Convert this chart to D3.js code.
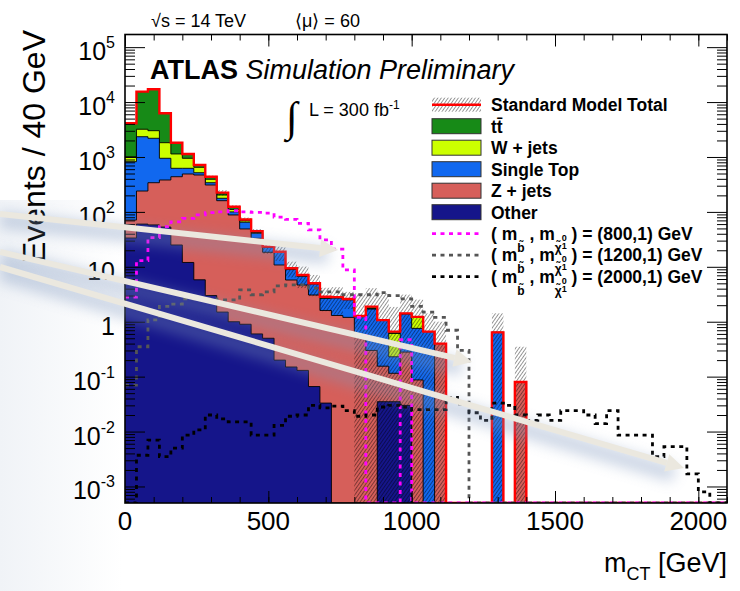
<!DOCTYPE html>
<html>
<head>
<meta charset="utf-8">
<script src="https://cdn.jsdelivr.net/npm/d3@7"></script>
<style>
body { margin: 0; background: #fff; }
svg { display: block; font-family: "Liberation Sans", Arial, Helvetica, sans-serif; }
</style>
</head>
<body>
<svg width="740" height="591"></svg>
<script>
// m_CT bins, 40 GeV wide, starting at 0
var binWidth = 40;

// background processes, events per bin
var ttbar = [3100, 12300, 14090, 4430, 685, 188, 66, 44, 21, 13, 4, 2.6, 0.5, 0.3, 0.2, 0.1, 0.05, 0.05, 0.03, 0.03,
  0, 0.15, 0, 0.05, 0.02, 0.02, 0, 0, 0, 0, 0, 0, 0, 0, 0, 0, 0, 0, 0, 0,
  0, 0, 0, 0, 0, 0, 0, 0, 0, 0, 0, 0, 0];
var wjets = [191, 860, 820, 873, 513, 325, 132, 53, 26, 11, 4, 1.0, 0.3, 0.2, 0.3, 0.3, 0.1, 0.15, 0.07, 0.07,
  0.02, 0.03, 0.015, 0.38, 0.02, 0.45, 0, 0, 0, 0, 0, 0, 0, 0, 0, 0, 0, 0, 0, 0,
  0, 0, 0, 0, 0, 0, 0, 0, 0, 0, 0, 0, 0];
var singleTop = [750, 2100, 1850, 566, 185, 132, 47, 31, 17, 12, 16, 8, 4.1, 7.5, 3.15, 2.04, 1.8, 1.05, 1.4, 1.3,
  0.7, 1.4, 0.9, 0.115, 1.1, 0.67, 0.66, 0, 0, 0, 0, 0, 0.64, 0, 0, 0, 0, 0, 0, 0,
  0, 0, 0, 0, 0, 0, 0, 0, 0, 0, 0, 0, 0];
var zjets = [37.5, 180, 282, 328, 412, 478, 464, 306, 158.5, 87, 48, 32.4, 17.9, 10.6, 5.6, 4.53, 3.0, 1.57, 1.3, 1.2,
  0.55, 0.3, 0.12, 0.08, 0.25, 0.087, 0, 0.40, 0, 0, 0, 0, 0, 0, 0.08, 0, 0, 0, 0, 0,
  0, 0, 0, 0, 0, 0, 0, 0, 0, 0, 0, 0, 0];
var other = [33.5, 60, 58, 53, 25, 12, 5.8, 3.0, 1.5, 1.0, 0.9, 0.6, 0.5, 0.2, 0.15, 0.13, 0.066, 0.033, 0, 0,
  0, 0, 0.035, 0.035, 0.03, 0, 0, 0, 0, 0, 0, 0, 0, 0, 0, 0, 0, 0, 0, 0,
  0, 0, 0, 0, 0, 0, 0, 0, 0, 0, 0, 0, 0];
// uncertainty on the SM total
var smError = [120, 400, 450, 200, 60, 40, 25, 20, 25, 8, 6, 4, 6, 6, 3, 3, 2.1, 1.3, 1.45, 0.9,
  2.0, 2.2, 2.2, 1.2, 1.7, 1.3, 0.76, 0.6, 0, 0, 0, 0, 0.78, 0, 0.27, 0, 0, 0, 0, 0,
  0, 0, 0, 0, 0, 0, 0, 0, 0, 0, 0, 0, 0];

// signal points
var sig800 = [2.8, 13, 34, 54, 66, 76, 88, 97, 100, 105, 100, 98, 95, 80, 73, 62, 47, 31, 21, 8.8,
  1.2, 0, 0, 0, 0.47, 0, 0, 0, 0, 0, 0, 0, 0, 0, 0, 0, 0, 0, 0, 0,
  0, 0, 0, 0, 0, 0, 0, 0, 0, 0, 0, 0, 0];
var sig1200 = [0.07, 0.35, 1.08, 1.9, 2.1, 2.6, 2.7, 2.6, 2.5, 2.5, 3.8, 3.1, 3.5, 4.5, 4.7, 4.7, 4.1, 3.5, 3.5, 3.1,
  3.1, 3.1, 3.4, 3.0, 2.6, 1.9, 1.5, 1.2, 0.7, 0.3, 0, 0, 0, 0, 0, 0, 0, 0, 0, 0,
  0, 0, 0, 0, 0, 0, 0, 0, 0, 0, 0, 0, 0];
var sig2000 = [0, 0.0037, 0.007, 0.0035, 0.005, 0.0086, 0.0107, 0.02, 0.017, 0.015, 0.015, 0.0086, 0.0086, 0.013, 0.019, 0.02, 0.03, 0.027, 0.029, 0.024,
  0.019, 0.02, 0.028, 0.03, 0.028, 0.025, 0.025, 0.025, 0.042, 0.032, 0.022, 0.016, 0.033, 0.03, 0.02, 0.016, 0.02, 0.016, 0.024, 0.024,
  0.02, 0.014, 0.024, 0.0086, 0.0086, 0.0086, 0.0035, 0.0053, 0.0053, 0.0017, 0.0008, 0, 0];

var xTicks = [0, 500, 1000, 1500, 2000];
var yDecades = [-3, -2, -1, 0, 1, 2, 3, 4, 5];

var svg = d3.select("svg");
var pLeft = 125, pRight = 727, pTop = 34.5, pBottom = 503;
var yMin = 5e-4, yMax = 1.7e5;

var x = d3.scaleLinear().domain([0, 2100]).range([pLeft, pRight]);
var y = d3.scaleLog().domain([yMin, yMax]).range([pBottom, pTop]);

var defs = svg.append("defs");
defs.append("clipPath").attr("id", "plotclip")
  .append("rect").attr("x", pLeft).attr("y", pTop).attr("width", pRight - pLeft).attr("height", pBottom - pTop);

var hatch = defs.append("pattern").attr("id", "hatch")
  .attr("patternUnits", "userSpaceOnUse").attr("width", 2.8).attr("height", 2.8)
  .attr("patternTransform", "rotate(35)");
hatch.append("line").attr("x1", 0).attr("y1", 0).attr("x2", 0).attr("y2", 2.8)
  .attr("stroke", "#000").attr("stroke-width", 0.8);

var blur = defs.append("filter").attr("id", "glow")
  .attr("x", "-20%").attr("y", "-50%").attr("width", "140%").attr("height", "200%");
blur.append("feGaussianBlur").attr("stdDeviation", 7);

var leftShade = defs.append("linearGradient").attr("id", "leftshade")
  .attr("x1", 0).attr("y1", 0).attr("x2", 1).attr("y2", 0);
leftShade.append("stop").attr("offset", 0).attr("stop-color", "#f0f3f7");
leftShade.append("stop").attr("offset", 1).attr("stop-color", "#ffffff");

svg.append("rect").attr("x", 0).attr("y", 200).attr("width", 122).attr("height", 391)
  .attr("fill", "url(#leftshade)");

var nBins = ttbar.length;
var layers = [
  {name: "Other", vals: other, color: "#15158a"},
  {name: "Z + jets", vals: zjets, color: "#d65f5a"},
  {name: "Single Top", vals: singleTop, color: "#1168ef"},
  {name: "W + jets", vals: wjets, color: "#ccff00"},
  {name: "tt", vals: ttbar, color: "#178a17"}
];

var running = d3.range(nBins).map(function() { return 0; });
layers.forEach(function(l) {
  running = running.map(function(r, i) { return r + l.vals[i]; });
  l.cum = running.slice();
});
var total = running;

function stepPoints(vals) {
  var pts = [];
  vals.forEach(function(v, i) {
    var yv = y(Math.max(v, yMin));
    pts.push([x(i * binWidth), yv], [x((i + 1) * binWidth), yv]);
  });
  return pts;
}

var plot = svg.append("g").attr("clip-path", "url(#plotclip)");

var area = d3.area().x(function(d) { return d[0]; }).y0(pBottom).y1(function(d) { return d[1]; });
var line = d3.line();

// stack: top layer first, each lower layer painted over it
layers.slice().reverse().forEach(function(l) {
  var pts = stepPoints(l.cum);
  plot.append("path").attr("d", area(pts)).attr("fill", l.color);
  plot.append("path").attr("d", line(pts)).attr("fill", "none")
    .attr("stroke", "#000").attr("stroke-width", 0.9);
});

// uncertainty band
plot.append("g").selectAll("rect")
  .data(d3.range(nBins).filter(function(i) { return total[i] > 0 && smError[i] > 0; }))
  .enter().append("rect")
  .attr("x", function(i) { return x(i * binWidth); })
  .attr("width", x(binWidth) - x(0))
  .attr("y", function(i) { return y(total[i] + smError[i]); })
  .attr("height", function(i) {
    return y(Math.max(total[i] - smError[i], yMin)) - y(total[i] + smError[i]);
  })
  .attr("fill", "url(#hatch)");

// SM total outline
plot.append("path").attr("d", line(stepPoints(total)))
  .attr("fill", "none").attr("stroke", "#ff0000").attr("stroke-width", 2.4);

var signals = [
  {vals: sig800, color: "#ff00ff", label: "(800,1)"},
  {vals: sig1200, color: "#555555", label: "(1200,1)"},
  {vals: sig2000, color: "#000000", label: "(2000,1)"}
];
signals.forEach(function(s) {
  plot.append("path").attr("d", line(stepPoints(s.vals)))
    .attr("fill", "none").attr("stroke", s.color).attr("stroke-width", 2.8)
    .attr("stroke-dasharray", "4,4.5");
});

// frame and axes
var axes = svg.append("g");
axes.append("g").attr("transform", "translate(0," + pBottom + ")")
  .call(d3.axisBottom(x).tickValues(d3.range(0, 2101, 100)).tickSize(-6).tickFormat(""));
axes.append("g").attr("transform", "translate(0," + pBottom + ")")
  .call(d3.axisBottom(x).tickValues(xTicks).tickSize(-12).tickFormat(""));
axes.append("g").attr("transform", "translate(0," + pTop + ")")
  .call(d3.axisTop(x).tickValues(d3.range(0, 2101, 100)).tickSize(-6).tickFormat(""));
axes.append("g").attr("transform", "translate(0," + pTop + ")")
  .call(d3.axisTop(x).tickValues(xTicks).tickSize(-12).tickFormat(""));

var minorY = [];
d3.range(-4, 6).forEach(function(d) {
  d3.range(2, 10).forEach(function(m) {
    var v = m * Math.pow(10, d);
    if (v > yMin && v < yMax) minorY.push(v);
  });
});
var majorY = yDecades.map(function(d) { return Math.pow(10, d); });

axes.append("g").attr("transform", "translate(" + pLeft + ",0)")
  .call(d3.axisLeft(y).tickValues(minorY).tickSize(-10).tickFormat(""));
axes.append("g").attr("transform", "translate(" + pLeft + ",0)")
  .call(d3.axisLeft(y).tickValues(majorY).tickSize(-20).tickFormat(""));
axes.append("g").attr("transform", "translate(" + pRight + ",0)")
  .call(d3.axisRight(y).tickValues(minorY).tickSize(-10).tickFormat(""));
axes.append("g").attr("transform", "translate(" + pRight + ",0)")
  .call(d3.axisRight(y).tickValues(majorY).tickSize(-20).tickFormat(""));
axes.selectAll(".domain").remove();
axes.selectAll(".tick line").attr("stroke", "#000").attr("stroke-width", 1);

svg.append("rect").attr("x", pLeft).attr("y", pTop)
  .attr("width", pRight - pLeft).attr("height", pBottom - pTop)
  .attr("fill", "none").attr("stroke", "#000").attr("stroke-width", 1.6);

// tick labels
svg.append("g").selectAll("text").data(xTicks).enter().append("text")
  .attr("x", function(d) { return x(d); })
  .attr("y", 530)
  .attr("text-anchor", "middle")
  .attr("font-size", 26)
  .text(function(d) { return d; });

var yl = svg.append("g").selectAll("text").data(yDecades).enter().append("text")
  .attr("x", 115)
  .attr("y", function(d) { return y(Math.pow(10, d)) + 13; })
  .attr("text-anchor", "end")
  .attr("font-size", 25);
yl.each(function(d) {
  var t = d3.select(this);
  if (d === 0) { t.text("1"); return; }
  if (d === 1) { t.text("10"); return; }
  t.append("tspan").text("10");
  t.append("tspan").attr("font-size", 16).attr("dy", -12).text(d);
});

// axis titles
svg.append("text")
  .attr("transform", "translate(45,30) rotate(-90)")
  .attr("text-anchor", "end")
  .attr("font-size", 32)
  .text("Events / 40 GeV");

var xt = svg.append("text").attr("x", 727).attr("y", 572).attr("text-anchor", "end").attr("font-size", 27);
xt.append("tspan").text("m");
xt.append("tspan").attr("font-size", 18).attr("dy", 8).text("CT");
xt.append("tspan").attr("dy", -8).text(" [GeV]");

// header labels
svg.append("text").attr("x", 151).attr("y", 27).attr("font-size", 18).text("\u221As = 14 TeV");
svg.append("text").attr("x", 295).attr("y", 27).attr("font-size", 18).text("\u27E8\u03BC\u27E9 = 60");

var atlas = svg.append("text").attr("x", 150).attr("y", 79).attr("font-size", 27);
atlas.append("tspan").attr("font-weight", "bold").text("ATLAS");
atlas.append("tspan").attr("font-style", "italic").text(" Simulation Preliminary");

svg.append("text").attr("x", 286).attr("y", 131).attr("font-size", 42)
  .attr("font-family", "DejaVu Sans").attr("font-weight", "300").text("\u222B");
var lumi = svg.append("text").attr("x", 309).attr("y", 116).attr("font-size", 18);
lumi.append("tspan").text("L = 300 fb");
lumi.append("tspan").attr("font-size", 12).attr("dy", -7).text("-1");

// legend
var legX = 432, legW = 49, legText = 491, legY0 = 104.7, legStep = 21.5;
var legend = svg.append("g").attr("font-size", 17.5).attr("font-weight", "bold");

legend.append("rect").attr("x", legX).attr("y", legY0 - 7).attr("width", legW).attr("height", 14)
  .attr("fill", "url(#hatch)");
legend.append("line").attr("x1", legX).attr("x2", legX + legW).attr("y1", legY0).attr("y2", legY0)
  .attr("stroke", "#ff0000").attr("stroke-width", 2.4);
legend.append("text").attr("x", legText).attr("y", legY0 + 6.5).text("Standard Model Total");

var boxes = layers.slice().reverse();
boxes.forEach(function(l, i) {
  var cy = legY0 + legStep * (i + 1);
  legend.append("rect").attr("x", legX).attr("y", cy - 7.5).attr("width", legW).attr("height", 15)
    .attr("fill", l.color).attr("stroke", "#333").attr("stroke-width", 1);
  var t = legend.append("text").attr("x", legText).attr("y", cy + 6.5);
  if (l.name === "tt") {
    t.append("tspan").text("t");
    t.append("tspan").text("t\u0304");
  } else {
    t.text(l.name);
  }
});

signals.forEach(function(s, i) {
  var cy = legY0 + legStep * (i + 6);
  legend.append("line").attr("x1", legX).attr("x2", legX + legW).attr("y1", cy).attr("y2", cy)
    .attr("stroke", s.color).attr("stroke-width", 2.8).attr("stroke-dasharray", "4,4.5");
  var t = legend.append("text").attr("x", legText).attr("y", cy + 6);
  t.append("tspan").text("( m");
  t.append("tspan").attr("font-size", 12).attr("dy", 12).text("b\u0303");
  t.append("tspan").attr("dy", -12).text(" , m");
  t.append("tspan").attr("font-size", 12).attr("dy", 12).text("\u03C7\u0303");
  t.append("tspan").attr("font-size", 9).attr("dy", -11).text("0");
  t.append("tspan").attr("font-size", 9).attr("dy", 8).attr("dx", -5).text("1");
  t.append("tspan").attr("dy", -9).text(" ) = " + s.label + " GeV");
});

// overlaid arrows
var arrows = [
  {x1: 0, y1: 214, x2: 338, y2: 250},
  {x1: 0, y1: 252, x2: 472, y2: 362},
  {x1: 0, y1: 267, x2: 684, y2: 468}
];
var arrowLayer = svg.append("g");
arrows.forEach(function(a) {
  arrowLayer.append("line")
    .attr("x1", a.x1).attr("y1", a.y1 + 6).attr("x2", a.x2 - 10).attr("y2", a.y2 + 6)
    .attr("stroke", "#7e96bd").attr("stroke-width", 16).attr("opacity", 0.4)
    .attr("filter", "url(#glow)");
});
arrows.forEach(function(a) {
  var ang = Math.atan2(a.y2 - a.y1, a.x2 - a.x1);
  var len = 18, half = 9;
  var bx = a.x2 - len * Math.cos(ang), by = a.y2 - len * Math.sin(ang);
  arrowLayer.append("line")
    .attr("x1", a.x1).attr("y1", a.y1).attr("x2", bx).attr("y2", by)
    .attr("stroke", "#ebe8df").attr("stroke-width", 6);
  arrowLayer.append("path")
    .attr("d", d3.line()([
      [a.x2, a.y2],
      [bx + half * Math.sin(ang), by - half * Math.cos(ang)],
      [bx - half * Math.sin(ang), by + half * Math.cos(ang)]
    ]) + "Z")
    .attr("fill", "#ebe8df");
});
</script>
</body>
</html>
